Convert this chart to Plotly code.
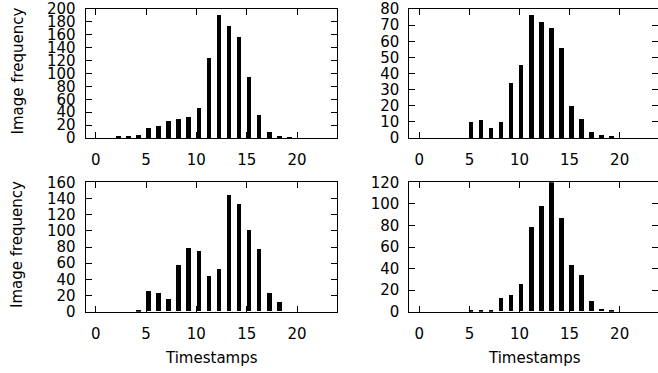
import plotly.graph_objects as go

timestamps = list(range(24))
freq_a = [0, 0, 2, 2, 4, 16, 19, 26, 30, 32, 46, 124, 190, 173, 157, 95, 35, 10, 3, 1, 0, 0, 0, 0]
freq_b = [0, 0, 0, 0, 0, 10, 11, 6, 10, 34, 45, 76, 72, 68, 56, 20, 12, 4, 2, 1, 0, 0, 0, 0]
freq_c = [0, 0, 0, 0, 1, 25, 23, 15, 57, 79, 75, 44, 52, 144, 133, 101, 77, 23, 12, 0, 0, 0, 0, 0]
freq_d = [0, 0, 0, 0, 0, 1, 1, 1, 12, 15, 25, 78, 98, 120, 87, 43, 34, 10, 2, 1, 0, 0, 0, 0]
x_ticks = [0, 5, 10, 15, 20]
y_max = [200, 80, 160, 120]
y_step = [20, 10, 20, 20]
y_label = "Image frequency"
x_label = "Timestamps"

W, H = 658, 373
FONT = dict(family="DejaVu Sans", size=15, color="black")

# panel pixel boxes: (left, right, top, bottom)
boxes = [(85.6, 337.3, 9, 138), (409.3, 658, 9, 138),
         (85.6, 337.3, 182.3, 311.7), (409.3, 658, 182.3, 311.7)]
x_ranges = [[-1, 24], [-1, 23.83], [-1, 24], [-1, 23.83]]
series = [freq_a, freq_b, freq_c, freq_d]

fig = go.Figure()
layout = dict(width=W, height=H, margin=dict(l=0, r=0, t=0, b=0, autoexpand=False),
              paper_bgcolor="white", plot_bgcolor="white",
              showlegend=False, font=FONT, bargap=0)

for i, (vals, box) in enumerate(zip(series, boxes)):
    xa = "x" if i == 0 else f"x{i+1}"
    ya = "y" if i == 0 else f"y{i+1}"
    fig.add_trace(go.Bar(x=timestamps, y=vals, width=0.45, offset=-0.02,
                         marker=dict(color="black", line=dict(width=0)),
                         xaxis=xa, yaxis=ya, hoverinfo="skip"))
    l, r, t, b = box
    axis_common = dict(showline=True, linecolor="black", linewidth=1,
                       mirror="ticks", ticks="inside", ticklen=6, tickwidth=1,
                       tickcolor="black", showgrid=False, zeroline=False,
                       tickfont=FONT, automargin=False)
    layout["xaxis" if i == 0 else f"xaxis{i+1}"] = dict(
        axis_common, domain=[l / W, r / W], range=x_ranges[i],
        tickvals=x_ticks, anchor=ya, ticklabelstandoff=8)
    layout["yaxis" if i == 0 else f"yaxis{i+1}"] = dict(
        axis_common, domain=[1 - b / H, 1 - t / H], range=[0, y_max[i]],
        dtick=y_step[i], tick0=0, anchor=xa, ticklabelstandoff=6)

fig.update_layout(**layout)

annotations = []
for (l, r, t, b) in [boxes[0], boxes[2]]:
    annotations.append(dict(text=y_label, x=17 / W, y=1 - ((t + b) / 2 - 2) / H,
                            xref="paper", yref="paper", showarrow=False,
                            textangle=-90, font=FONT, xanchor="center", yanchor="middle"))
for (l, r, t, b) in [boxes[2], (409.3, 660, 0, 0)]:
    annotations.append(dict(text=x_label, x=((l + r) / 2) / W, y=1 - 357.5 / H,
                            xref="paper", yref="paper", showarrow=False,
                            font=FONT, xanchor="center", yanchor="middle"))
fig.update_layout(annotations=annotations)

fig.write_html("out.html", config={"displayModeBar": False},
               post_script="document.body.style.margin='0';document.body.style.overflow='hidden';")
